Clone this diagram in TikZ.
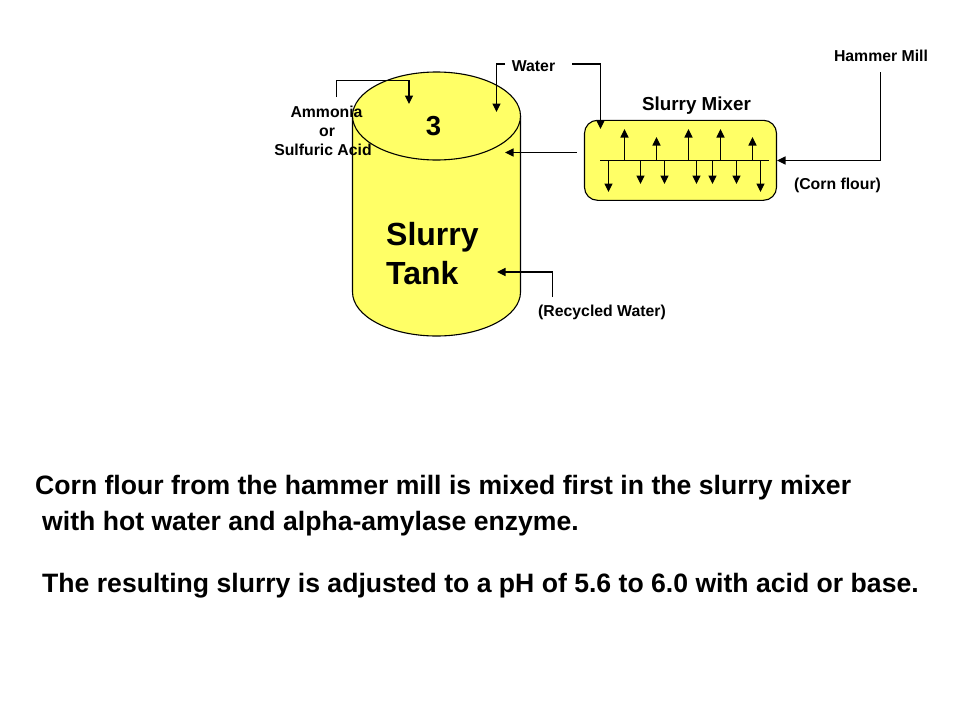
\documentclass[tikz,border=0pt]{standalone}
\usepackage{fontspec}
\setmainfont{Liberation Sans}
\usetikzlibrary{arrows.meta,positioning}
\definecolor{tankyellow}{HTML}{FFFF66}
\tikzset{
  x=1pt,y=-1pt,
  flow/.style={draw=black,line width=1.1pt,-{Triangle[length=8.5pt,width=8pt]}},
  plainline/.style={draw=black,line width=1.1pt},
  vessel/.style={draw=black,line width=1.1pt,fill=tankyellow},
  small/.style={font=\fontsize{15.8}{18}\selectfont\bfseries,inner sep=0pt,align=center},
  big/.style={font=\fontsize{32}{39}\selectfont\bfseries,inner sep=0pt,align=left},
  body/.style={font=\fontsize{26.6}{30}\selectfont\bfseries,inner sep=0pt,anchor=base west},
}
\begin{document}
\begin{tikzpicture}
\useasboundingbox (0,0) rectangle (960,720);
\fill[white] (0,0) rectangle (960,720);
% tank
\path[vessel] (352.5,116) -- (352.5,292) arc[start angle=180,end angle=360,x radius=84,y radius=-44] -- (520.5,116);
\path[vessel] (436.5,116) ellipse[x radius=84,y radius=44];
% mixer
\node[vessel,rounded corners=13pt,minimum width=192pt,minimum height=80pt,inner sep=0pt] (mixer) at (680.5,160.3) {};
% coordinates
\coordinate (amA) at (336.5,97);\coordinate (amB) at (336.5,80.5);\coordinate (amC) at (409,80.5);\coordinate (amD) at (409,104);
\coordinate (waA) at (505,64);\coordinate (waB) at (496.5,64);\coordinate (waC) at (496.5,112);
\coordinate (wmA) at (572,64);\coordinate (wmB) at (600.5,64);\coordinate (wmC) at (600.5,129);
\coordinate (mtA) at (576.5,152.5);\coordinate (mtB) at (505,152.5);
\coordinate (hmA) at (880.5,72);\coordinate (hmB) at (880.5,160.5);\coordinate (hmC) at (777,160.5);
\coordinate (rwA) at (552.5,297);\coordinate (rwB) at (552.5,272);\coordinate (rwC) at (497,272);
\coordinate (shL) at (600,160.5);\coordinate (shR) at (768.5,160.5);
\draw[flow] (amA) -- (amB) -- (amC) -- (amD);
\draw[flow] (waA) -- (waB) -- (waC);
\draw[flow] (wmA) -- (wmB) -- (wmC);
\draw[flow] (mtA) -- (mtB);
\draw[flow] (hmA) -- (hmB) -- (hmC);
\draw[flow] (rwA) -- (rwB) -- (rwC);
\draw[plainline] (shL) -- (shR);
\foreach \px/\tipy in {624.5/129,656.5/137,688.5/129,720.5/129,752.5/137}
  \draw[flow] (\px,160.5) -- (\px,\tipy);
\foreach \px/\tipy in {608.5/192,640.5/184,664.5/184,696.5/184,712.5/184,736.5/184,760.5/192}
  \draw[flow] (\px,160.5) -- (\px,\tipy);
% labels
\node[small,anchor=base] (lblWater) at (533.5,71) {Water};
\node[small,anchor=base] (lblHammer) at (881,61) {Hammer Mill};
\node[small,anchor=base,font=\fontsize{18.8}{20}\selectfont\bfseries] (lblMixer) at (696.5,110) {Slurry Mixer};
\node[small,anchor=base] (lblCorn) at (837.5,189) {(Corn flour)};
\node[small,anchor=base] (lblRec) at (602,316) {(Recycled Water)};
\node[small,anchor=base] (lblAm) at (326.5,117) {Ammonia};
\node[small,anchor=base] (lblOr) at (327,136) {or};
\node[small,anchor=base] (lblSa) at (323,155) {Sulfuric Acid};
\node[font=\fontsize{27.5}{30}\selectfont\bfseries,inner sep=0pt,anchor=base] (lblThree) at (433.5,135.5) {3};
\node[big,anchor=base west] (lblSlurry) at (386,245) {Slurry};
\node[big,anchor=base west] (lblTank) at (386,284) {Tank};
\node[body] (t1) at (35,494) {Corn flour from the hammer mill is mixed first in the slurry mixer};
\node[body] (t2) at (42,530) {with hot water and alpha-amylase enzyme.};
\node[body] (t3) at (42,592) {The resulting slurry is adjusted to a pH of 5.6 to 6.0 with acid or base.};
\end{tikzpicture}
\end{document}
